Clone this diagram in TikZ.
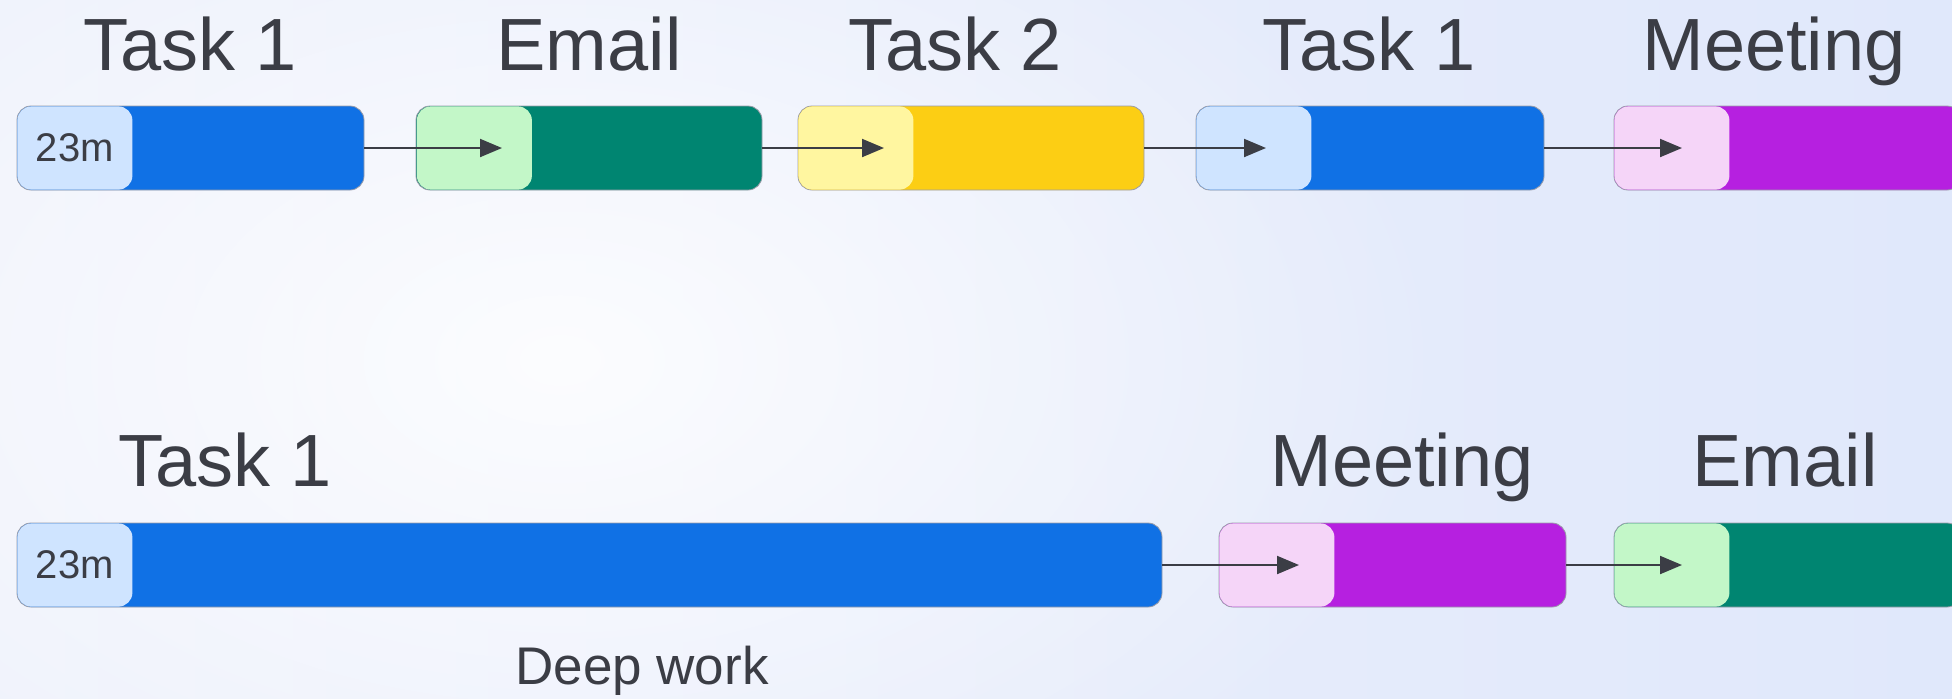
\documentclass[tikz,border=0pt]{standalone}
\usepackage{fontspec}
\setmainfont{Liberation Sans}
\usetikzlibrary{arrows.meta,fadings}
\tikzfading[name=softglow, inner color=transparent!0, outer color=transparent!100]
\definecolor{bgL}{HTML}{EFF2FC}
\definecolor{bgM}{HTML}{F1F4FD}
\definecolor{bgR}{HTML}{E0E8FB}
\definecolor{txt}{HTML}{3B3D45}
\definecolor{blueD}{HTML}{1071E5}
\definecolor{blueL}{HTML}{CFE4FF}
\definecolor{greenD}{HTML}{008571}
\definecolor{greenL}{HTML}{C3F7C8}
\definecolor{yellowD}{HTML}{FCCE14}
\definecolor{yellowL}{HTML}{FFF6A0}
\definecolor{purpleD}{HTML}{B620E0}
\definecolor{purpleL}{HTML}{F5D5F8}
\definecolor{edge}{HTML}{9A9CA8}
\tikzset{
  barbox/.style={rectangle, rounded corners=7pt, draw=edge, line width=0.4pt, minimum height=42pt, inner sep=0pt},
  lightbox/.style={rectangle, rounded corners=7pt, minimum height=41.6pt, minimum width=57.5pt, inner sep=0pt, text=txt, font=\fontsize{20}{24}\selectfont},
  title/.style={anchor=base, text=txt, font=\fontsize{37}{44}\selectfont, inner sep=0pt},
  conn/.style={draw=txt, line width=1pt, -{Triangle[length=11pt,width=9pt]}}
}
\begin{document}
\begin{tikzpicture}[x=0.5pt,y=-0.5pt]
\useasboundingbox (0,0) rectangle (1952,698);
\clip (0,0) rectangle (1952,698);
\shade[left color=bgL, middle color=bgM, right color=bgR] (0,0) rectangle (1952,698);
\fill[white, opacity=0.85, path fading=softglow] (560,360) ellipse (900 and 560);

% top row
\node[barbox, fill=blueD, minimum width=173.5pt] (b1) at (190.5,148) {};
\node[lightbox, fill=blueL] (l1) at (74.9,148) {23m};
\node[barbox, fill=greenD, minimum width=173pt] (b2) at (589,148) {};
\node[lightbox, fill=greenL] (l2) at (474.4,148) {};
\node[barbox, fill=yellowD, minimum width=173pt] (b3) at (971,148) {};
\node[lightbox, fill=yellowL] (l3) at (855.9,148) {};
\node[barbox, fill=blueD, minimum width=174pt] (b4) at (1370,148) {};
\node[lightbox, fill=blueL] (l4) at (1253.9,148) {};
\node[barbox, fill=purpleD, minimum width=173.5pt] (b5) at (1787.5,148) {};
\node[lightbox, fill=purpleL] (l5) at (1671.9,148) {};

\node[title] (t1) at (190,70) {Task 1};
\node[title] (t2) at (589,70) {Email};
\node[title] (t3) at (955,70) {Task 2};
\node[title] (t4) at (1369,70) {Task 1};
\node[title] (t5) at (1774,70) {Meeting};

\coordinate (e2) at (502,148);
\coordinate (e3) at (884,148);
\coordinate (e4) at (1266,148);
\coordinate (e5) at (1682,148);
\draw[conn] (b1.east) -- (e2);
\draw[conn] (b2.east) -- (e3);
\draw[conn] (b3.east) -- (e4);
\draw[conn] (b4.east) -- (e5);

% bottom row
\node[barbox, fill=blueD, minimum width=572.5pt] (c1) at (589.5,565) {};
\node[lightbox, fill=blueL] (m1) at (74.9,565) {23m};
\node[barbox, fill=purpleD, minimum width=173.5pt] (c2) at (1392.5,565) {};
\node[lightbox, fill=purpleL] (m2) at (1276.9,565) {};
\node[barbox, fill=greenD, minimum width=173.5pt] (c3) at (1787.5,565) {};
\node[lightbox, fill=greenL] (m3) at (1671.9,565) {};

\node[title] (u1) at (225,486) {Task 1};
\node[title] (u2) at (1402,486) {Meeting};
\node[title] (u3) at (1785,486) {Email};
\node[anchor=base, text=txt, font=\fontsize{26.5}{32}\selectfont, inner sep=0pt] (dw) at (642,684) {Deep work};

\coordinate (f2) at (1299,565);
\coordinate (f3) at (1682,565);
\draw[conn] (c1.east) -- (f2);
\draw[conn] (c2.east) -- (f3);
\end{tikzpicture}
\end{document}
